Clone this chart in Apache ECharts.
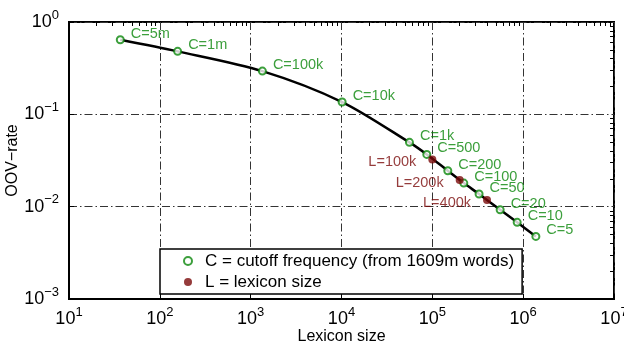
<!DOCTYPE html>
<html>
<head>
<meta charset="utf-8">
<script src="https://cdn.jsdelivr.net/npm/echarts@6/dist/echarts.min.js"></script>
<style>
  html, body { margin: 0; padding: 0; background: #fff; }
  #chart { width: 624px; height: 345px; }
</style>
</head>
<body>
<div id="chart"></div>
<script>
// cutoff frequency points (green)
const cutoffLabels = ['C=5m', 'C=1m', 'C=100k', 'C=10k', 'C=1k', 'C=500', 'C=200', 'C=100', 'C=50', 'C=20', 'C=10', 'C=5'];
const cutoffSize = [36.7, 157, 1346, 10160, 56000, 86900, 148000, 222000, 327000, 558000, 859000, 1380000];
const cutoffOov = [0.643, 0.481, 0.294, 0.136, 0.0497, 0.0368, 0.0245, 0.018, 0.0137, 0.00926, 0.00676, 0.00476];

// lexicon size points (dark red)
const lexLabels = ['L=100k', 'L=200k', 'L=400k'];
const lexSize = [100000, 200000, 400000];
const lexOov = [0.0325, 0.0194, 0.0118];

const legendNames = ['C = cutoff frequency (from 1609m words)', 'L = lexicon size'];

const GREEN = '#0b870b';
const RED = '#7a0a0a';
const FONT = 'Liberation Sans';

// minor tick positions 2..9 x 10^k
function minorTicks(lo, hi) {
  const out = [];
  for (let e = lo; e < hi; e++) {
    for (let m = 2; m <= 9; m++) out.push(m * Math.pow(10, e));
  }
  return out;
}

function powLabel(v) {
  const e = Math.round(Math.log10(v));
  return '{a|10}{b|' + String(e).replace('-', '\u2212') + '}';
}

const chart = echarts.init(document.getElementById('chart'));

const gridLine = { show: true, lineStyle: { color: '#333', width: 1, type: [8, 3, 1.5, 3] } };
const richText = {
  a: { fontSize: 18, color: '#000', fontFamily: FONT },
  b: { fontSize: 13, color: '#000', fontFamily: FONT, padding: [0, 0, 14, 0] }
};
const nameStyle = { fontSize: 16, color: '#000', fontFamily: FONT };

// hidden twin axis that only carries the minor ticks
function minorAxis(min, max, ticks) {
  return {
    type: 'log', logBase: 10, min: min, max: max, interval: 1,
    axisLine: { show: false },
    axisLabel: { show: false },
    splitLine: { show: false },
    axisTick: { show: true, inside: true, length: 4, lineStyle: { color: '#000' }, customValues: ticks }
  };
}

const option = {
  animation: false,
  grid: {
    left: 69, top: 22, right: 10, bottom: 46,
    outerBoundsMode: 'none',
    show: true, borderColor: '#000', borderWidth: 2
  },
  xAxis: [
    {
      type: 'log',
      logBase: 10,
      min: 10,
      max: 1e7,
      interval: 1,
      name: 'Lexicon size',
      nameLocation: 'middle',
      nameGap: 30,
      nameMoveOverlap: false,
      nameTextStyle: nameStyle,
      axisLine: { lineStyle: { color: '#000', width: 2 } },
      axisTick: { inside: true, length: 5, lineStyle: { color: '#000' } },
      axisLabel: { formatter: powLabel, rich: richText, margin: 7 },
      splitLine: gridLine
    },
    minorAxis(10, 1e7, minorTicks(1, 7))
  ],
  yAxis: [
    {
      type: 'log',
      logBase: 10,
      min: 1e-3,
      max: 1,
      interval: 1,
      name: 'OOV\u2212rate',
      nameLocation: 'middle',
      nameRotate: 90,
      nameGap: 48,
      nameMoveOverlap: false,
      nameTextStyle: nameStyle,
      axisLine: { lineStyle: { color: '#000', width: 2 } },
      axisTick: { inside: true, length: 5, lineStyle: { color: '#000' } },
      axisLabel: { formatter: powLabel, rich: richText, margin: 10 },
      splitLine: gridLine
    },
    minorAxis(1e-3, 1, minorTicks(-3, 0))
  ],
  legend: {
    data: legendNames,
    orient: 'vertical',
    left: 160,
    top: 249,
    backgroundColor: '#fff',
    borderColor: '#000',
    borderWidth: 1.5,
    borderRadius: 0,
    padding: [2, 8, 2, 23],
    itemGap: 1,
    itemWidth: 8,
    itemHeight: 8,
    textStyle: { fontSize: 17, color: '#000', fontFamily: FONT, lineHeight: 20, padding: [0, 0, 0, 8] }
  },
  series: [
    {
      name: 'curve',
      type: 'line',
      data: cutoffSize.map((x, i) => [x, cutoffOov[i]]),
      showSymbol: false,
      smooth: 0.3,
      lineStyle: { color: '#000', width: 2.5 },
      z: 2
    },
    {
      name: legendNames[0],
      type: 'scatter',
      symbol: 'emptyCircle',
      symbolSize: 7,
      itemStyle: { color: GREEN, borderColor: GREEN, borderWidth: 1.6 },
      data: cutoffSize.map((x, i) => ({ value: [x, cutoffOov[i]], label: { formatter: cutoffLabels[i] } })),
      label: {
        show: true,
        position: 'right',
        distance: 6,
        offset: [0, -6],
        color: GREEN,
        fontSize: 14.5,
        fontFamily: FONT
      },
      z: 3
    },
    {
      name: legendNames[1],
      type: 'scatter',
      symbol: 'circle',
      symbolSize: 8,
      itemStyle: { color: RED },
      data: lexSize.map((x, i) => ({ value: [x, lexOov[i]], label: { formatter: lexLabels[i] } })),
      label: {
        show: true,
        position: 'left',
        distance: 12,
        offset: [0, 3],
        color: RED,
        fontSize: 14.5,
        fontFamily: FONT
      },
      z: 4
    }
  ]
};

chart.setOption(option);
</script>
</body>
</html>
